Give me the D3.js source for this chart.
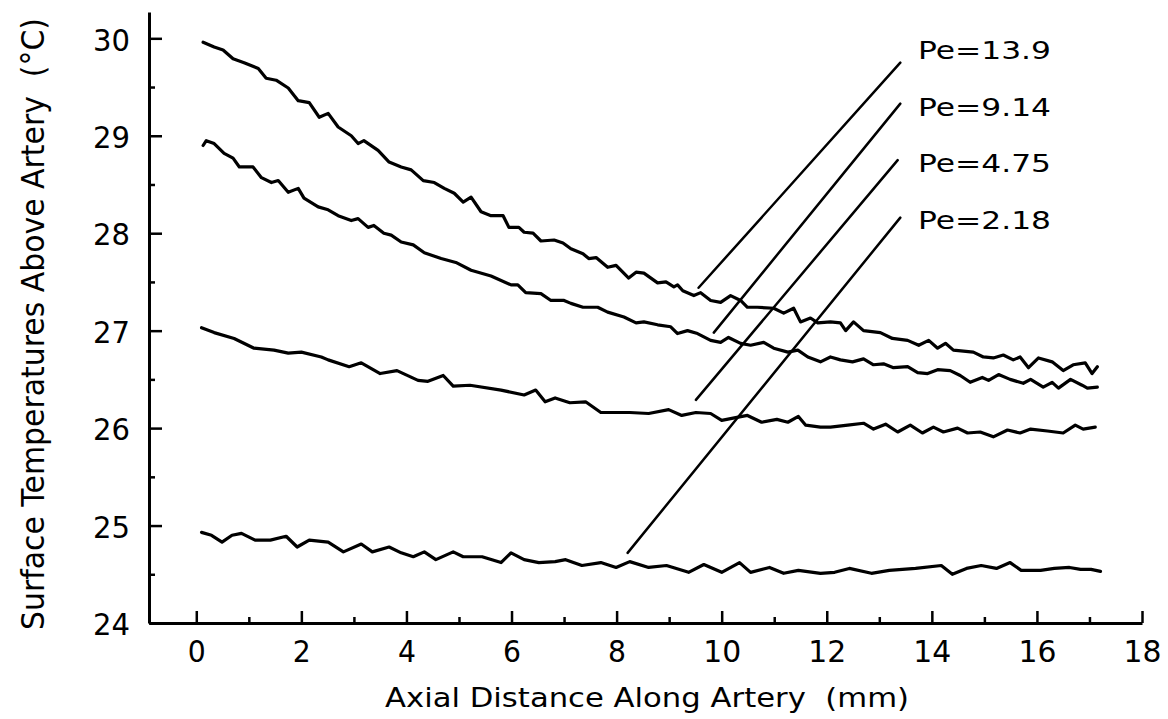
<!DOCTYPE html>
<html>
<head>
<meta charset="utf-8">
<script src="https://cdn.jsdelivr.net/npm/d3@7"></script>
<style>
  html, body { margin: 0; padding: 0; background: #fff; }
  svg { display: block; }
  text { font-family: "DejaVu Sans", "Liberation Sans", sans-serif; fill: #000; white-space: pre; }
</style>
</head>
<body>
<svg id="chart" width="1168" height="719"></svg>
<script>
// Surface temperature above the artery vs. axial distance, one trace per Peclet number.
// Each trace: [axial distance (mm), temperature (°C)]
const pe139 = [
  [0.13,29.96],[0.34,29.91],[0.51,29.88],[0.70,29.79],[0.91,29.75],[1.18,29.69],[1.33,29.59],[1.52,29.57],
  [1.75,29.49],[1.94,29.36],[2.15,29.34],[2.34,29.19],[2.51,29.23],[2.70,29.09],[2.95,29.00],[3.08,28.92],
  [3.19,28.95],[3.46,28.85],[3.67,28.73],[3.90,28.68],[4.09,28.65],[4.32,28.54],[4.53,28.52],[4.72,28.46],
  [4.91,28.41],[5.08,28.32],[5.23,28.37],[5.42,28.22],[5.61,28.18],[5.84,28.18],[5.95,28.06],[6.14,28.06],
  [6.24,28.01],[6.41,28.00],[6.56,27.92],[6.81,27.93],[6.98,27.90],[7.13,27.84],[7.36,27.79],[7.47,27.74],
  [7.61,27.75],[7.83,27.65],[7.99,27.67],[8.08,27.62],[8.23,27.54],[8.37,27.60],[8.52,27.59],[8.78,27.49],
  [8.94,27.50],[9.09,27.45],[9.16,27.47],[9.26,27.41],[9.47,27.36],[9.60,27.39],[9.79,27.31],[9.98,27.29],
  [10.17,27.36],[10.36,27.31],[10.49,27.24],[10.68,27.24],[10.99,27.23],[11.18,27.18],[11.37,27.23],[11.50,27.09],
  [11.69,27.13],[11.83,27.08],[12.07,27.09],[12.26,27.08],[12.36,27.00],[12.51,27.09],[12.70,27.00],[13.02,26.98],
  [13.25,26.92],[13.54,26.90],[13.75,26.85],[13.94,26.90],[14.11,26.82],[14.26,26.87],[14.41,26.80],[14.79,26.78],
  [14.98,26.73],[15.17,26.72],[15.36,26.75],[15.55,26.70],[15.68,26.73],[15.84,26.62],[16.03,26.72],[16.29,26.68],
  [16.50,26.59],[16.69,26.65],[16.92,26.67],[17.05,26.56],[17.15,26.63]
];
const pe914 = [
  [0.13,28.90],[0.19,28.95],[0.34,28.92],[0.53,28.82],[0.70,28.77],[0.82,28.68],[1.08,28.68],[1.24,28.57],
  [1.43,28.52],[1.56,28.54],[1.75,28.42],[1.94,28.46],[2.05,28.36],[2.32,28.27],[2.51,28.24],[2.70,28.18],
  [2.95,28.13],[3.08,28.15],[3.27,28.06],[3.38,28.08],[3.57,28.00],[3.71,27.98],[3.90,27.91],[4.13,27.88],
  [4.34,27.80],[4.66,27.74],[4.94,27.70],[5.23,27.62],[5.61,27.56],[5.99,27.47],[6.12,27.47],[6.27,27.39],
  [6.56,27.38],[6.75,27.31],[7.00,27.31],[7.13,27.28],[7.36,27.24],[7.64,27.24],[7.83,27.19],[8.14,27.14],
  [8.37,27.08],[8.52,27.09],[8.78,27.06],[9.03,27.04],[9.16,26.97],[9.35,27.00],[9.54,26.97],[9.79,26.90],
  [9.98,26.88],[10.13,26.93],[10.36,26.87],[10.55,26.85],[10.80,26.88],[10.99,26.82],[11.26,26.78],[11.45,26.80],
  [11.64,26.73],[11.88,26.68],[12.07,26.73],[12.26,26.70],[12.49,26.68],[12.70,26.71],[12.89,26.65],[13.08,26.66],
  [13.27,26.62],[13.54,26.63],[13.73,26.57],[13.92,26.56],[14.11,26.60],[14.35,26.59],[14.54,26.54],[14.73,26.47],
  [14.96,26.52],[15.08,26.49],[15.27,26.55],[15.49,26.50],[15.74,26.46],[15.88,26.50],[16.12,26.42],[16.29,26.47],
  [16.41,26.41],[16.64,26.50],[16.86,26.44],[16.96,26.41],[17.15,26.42]
];
const pe475 = [
  [0.10,27.03],[0.34,26.98],[0.72,26.92],[1.10,26.82],[1.48,26.80],[1.75,26.77],[2.00,26.78],[2.38,26.73],
  [2.51,26.70],[2.91,26.63],[3.14,26.67],[3.50,26.56],[3.82,26.59],[4.22,26.49],[4.41,26.48],[4.70,26.54],
  [4.89,26.43],[5.21,26.44],[5.80,26.39],[6.24,26.34],[6.46,26.39],[6.64,26.27],[6.83,26.31],[7.11,26.26],
  [7.41,26.27],[7.70,26.16],[8.25,26.16],[8.61,26.15],[8.99,26.19],[9.24,26.13],[9.51,26.16],[9.79,26.15],
  [10.00,26.08],[10.29,26.11],[10.49,26.13],[10.76,26.06],[11.05,26.09],[11.26,26.06],[11.46,26.12],[11.60,26.03],
  [11.88,26.01],[12.07,26.01],[12.40,26.03],[12.70,26.05],[12.89,25.99],[13.12,26.04],[13.35,25.96],[13.59,26.03],
  [13.82,25.95],[14.03,26.01],[14.22,25.96],[14.49,26.00],[14.68,25.95],[14.92,25.96],[15.17,25.91],[15.44,25.98],
  [15.68,25.95],[15.88,25.99],[16.20,25.97],[16.50,25.95],[16.73,26.03],[16.88,25.99],[17.11,26.01]
];
const pe218 = [
  [0.10,24.93],[0.29,24.90],[0.49,24.83],[0.68,24.90],[0.86,24.92],[1.12,24.85],[1.41,24.85],[1.71,24.89],
  [1.92,24.78],[2.15,24.85],[2.51,24.83],[2.80,24.73],[3.14,24.81],[3.35,24.73],[3.67,24.78],[3.90,24.72],
  [4.13,24.68],[4.34,24.73],[4.56,24.65],[4.89,24.73],[5.08,24.68],[5.44,24.68],[5.80,24.62],[5.99,24.72],
  [6.24,24.65],[6.52,24.62],[6.83,24.63],[7.03,24.65],[7.34,24.59],[7.70,24.62],[7.99,24.57],[8.25,24.63],
  [8.61,24.57],[8.95,24.59],[9.37,24.52],[9.66,24.60],[10.00,24.52],[10.34,24.62],[10.55,24.52],[10.91,24.57],
  [11.18,24.51],[11.46,24.54],[11.88,24.51],[12.15,24.52],[12.43,24.56],[12.85,24.51],[13.19,24.54],[13.69,24.56],
  [14.18,24.59],[14.39,24.50],[14.66,24.56],[14.94,24.59],[15.23,24.56],[15.49,24.62],[15.70,24.54],[16.07,24.54],
  [16.33,24.56],[16.62,24.57],[16.83,24.55],[17.03,24.55],[17.21,24.53]
];

const traces = [pe139, pe914, pe475, pe218];
const peLabels = ["Pe=13.9", "Pe=9.14", "Pe=4.75", "Pe=2.18"];
// Leader lines joining each label to its trace: [mm, °C] at the trace end and at the label end
const leaderTraceEnd = [[9.56, 27.44], [9.85, 26.98], [9.51, 26.29], [8.21, 24.72]];
const leaderLabelEnd = [[13.40, 29.75], [13.40, 29.33], [13.35, 28.75], [13.40, 28.16]];

const xMajor = [0, 2, 4, 6, 8, 10, 12, 14, 16, 18];
const xMinor = [1, 3, 5, 7, 9, 11, 13, 15, 17];
const yMajor = [24, 25, 26, 27, 28, 29, 30];
const yMinor = [24.5, 25.5, 26.5, 27.5, 28.5, 29.5];

const xTitle = "Axial Distance Along Artery  (mm)";
const yTitle = "Surface Temperatures Above Artery  (°C)";

const svg = d3.select("#chart");

const x = d3.scaleLinear().domain([-0.9, 18]).range([149, 1142]);
const y = d3.scaleLinear().domain([24, 30.27]).range([623, 12]);

// Axes
const yAxisG = svg.append("g").attr("transform", `translate(${x(-0.9)},0)`)
  .call(d3.axisLeft(y).tickValues(yMajor).tickSizeInner(-13).tickSizeOuter(0).tickPadding(19).tickFormat(d3.format("d")));
svg.append("g").attr("transform", `translate(${x(-0.9)},0)`)
  .call(d3.axisLeft(y).tickValues(yMinor).tickSizeInner(-6).tickSizeOuter(0).tickFormat(""))
  .call(g => g.select(".domain").remove());

const xAxisG = svg.append("g").attr("transform", `translate(0,${y(24)})`)
  .call(d3.axisBottom(x).tickValues(xMajor).tickSizeInner(-12).tickSizeOuter(0).tickPadding(17).tickFormat(d3.format("d")));
svg.append("g").attr("transform", `translate(0,${y(24)})`)
  .call(d3.axisBottom(x).tickValues(xMinor).tickSizeInner(-6).tickSizeOuter(0).tickFormat(""))
  .call(g => g.select(".domain").remove());

svg.selectAll(".domain").attr("stroke", "#000").attr("stroke-width", 3);
svg.selectAll(".tick line").attr("stroke", "#000").attr("stroke-width", 2.5);

yAxisG.selectAll(".tick text")
  .attr("font-size", 31).attr("font-family", "DejaVu Sans").attr("dy", "0.38em")
  .attr("textLength", 37).attr("lengthAdjust", "spacingAndGlyphs");
xAxisG.selectAll(".tick text")
  .attr("font-size", 31).attr("font-family", "DejaVu Sans")
  .attr("textLength", d => d >= 10 ? 38 : 18).attr("lengthAdjust", "spacingAndGlyphs");

// Traces
const line = d3.line().x(d => x(d[0])).y(d => y(d[1]));
svg.append("g").selectAll("path").data(traces).join("path")
  .attr("d", line)
  .attr("fill", "none").attr("stroke", "#000").attr("stroke-width", 3.2)
  .attr("stroke-linejoin", "round").attr("stroke-linecap", "round");

// Leader lines and labels
svg.append("g").selectAll("line").data(peLabels).join("line")
  .attr("x1", (d, i) => x(leaderTraceEnd[i][0])).attr("y1", (d, i) => y(leaderTraceEnd[i][1]))
  .attr("x2", (d, i) => x(leaderLabelEnd[i][0])).attr("y2", (d, i) => y(leaderLabelEnd[i][1]))
  .attr("stroke", "#000").attr("stroke-width", 2.5).attr("stroke-linecap", "round");

svg.append("g").selectAll("text").data(peLabels).join("text")
  .attr("x", 918).attr("y", (d, i) => 59 + i * 56.7)
  .attr("font-size", 24).attr("textLength", 133).attr("lengthAdjust", "spacingAndGlyphs")
  .text(d => d);

// Axis titles
svg.append("text")
  .attr("x", 385).attr("y", 707)
  .attr("font-size", 26).attr("textLength", 524).attr("lengthAdjust", "spacingAndGlyphs")
  .text(xTitle);

// Vertical title: set at its natural length, glyphs heightened across the baseline
svg.append("text")
  .attr("transform", "translate(44,630) rotate(-90) scale(1,1.18)")
  .attr("font-size", 27).attr("textLength", 612).attr("lengthAdjust", "spacingAndGlyphs")
  .text(yTitle);
</script>
</body>
</html>
